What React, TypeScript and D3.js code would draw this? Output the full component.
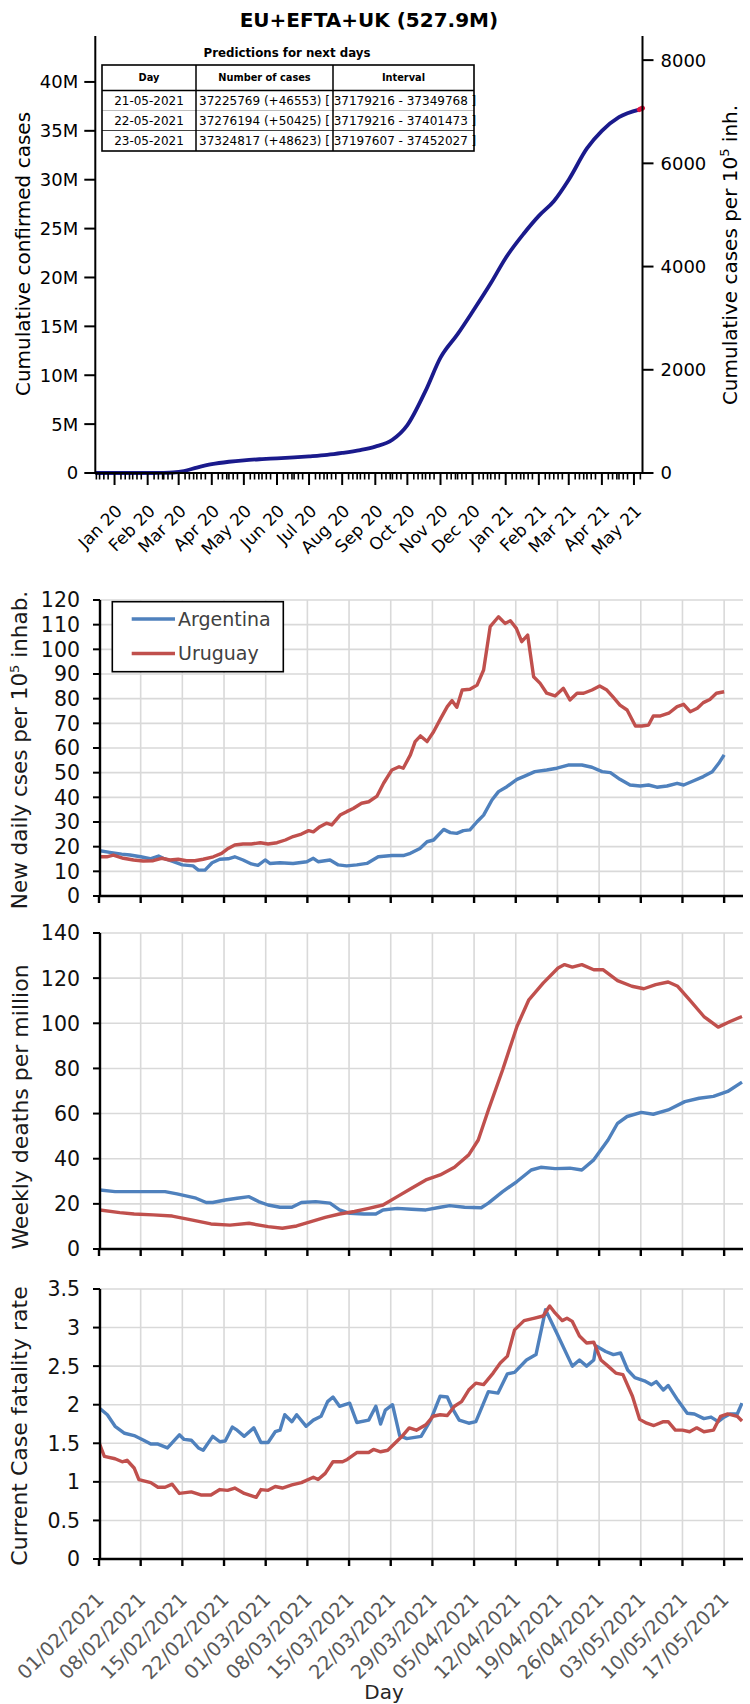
import React, { useEffect } from "react";
import * as d3 from "d3";

// ================= TOP CHART DATA =================
const TOP_TITLE = "EU+EFTA+UK (527.9M)";
const POPULATION = 527.9e6;
const cumDates = [
  "2019-12-28", "2020-02-20", "2020-03-01", "2020-03-10", "2020-03-20", "2020-04-01",
  "2020-04-15", "2020-05-01", "2020-05-15", "2020-06-01", "2020-06-15", "2020-07-01",
  "2020-07-15", "2020-08-01", "2020-08-15", "2020-09-01", "2020-09-15", "2020-10-01",
  "2020-10-15", "2020-11-01", "2020-11-15", "2020-12-01", "2020-12-15", "2021-01-01",
  "2021-01-15", "2021-02-01", "2021-02-15", "2021-03-01", "2021-03-15", "2021-04-01",
  "2021-04-15", "2021-05-01", "2021-05-20",
];
const cumMillions = [
  0, 0, 0.01, 0.05, 0.2, 0.55, 0.9, 1.15, 1.3, 1.42, 1.5, 1.6, 1.7, 1.85, 2.05, 2.35,
  2.7, 3.4, 4.9, 8.4, 11.8, 14.2, 16.5, 19.4, 22.0, 24.5, 26.3, 27.8, 30.0, 33.2, 35.0,
  36.4, 37.17,
];
const predDates = ["2021-05-20", "2021-05-21", "2021-05-22", "2021-05-23"];
const predMillions = [37.17, 37.225769, 37.276194, 37.324817];
const leftTickValues = [0, 5, 10, 15, 20, 25, 30, 35, 40];
const leftTickLabels = ["0", "5M", "10M", "15M", "20M", "25M", "30M", "35M", "40M"];
const rightTickValues = [0, 2000, 4000, 6000, 8000];
const TABLE_TITLE = "Predictions for next days";
const tableHeader = ["Day", "Number of cases", "Interval"];
const tableDays = ["21-05-2021", "22-05-2021", "23-05-2021"];
const tableCases = ["37225769 (+46553) [", "37276194 (+50425) [", "37324817 (+48623) ["];
const tableIntervals = ["37179216 - 37349768 ]", "37179216 - 37401473 ]", "37197607 - 37452027 ]"];

// ================= BOTTOM CHARTS DATA =================
const weekLabels = [
  "01/02/2021", "08/02/2021", "15/02/2021", "22/02/2021", "01/03/2021", "08/03/2021",
  "15/03/2021", "22/03/2021", "29/03/2021", "05/04/2021", "12/04/2021", "19/04/2021",
  "26/04/2021", "03/05/2021", "10/05/2021", "17/05/2021",
];
const seriesNames = ["Argentina", "Uruguay"];
const seriesColors = ["#4f81bd", "#c0504d"];

// [day offset since 01/02/2021, value]
const casesArgentina = [
  [0, 18.4], [1.8, 17.7], [3.8, 17.0], [5.2, 16.6], [7, 15.9], [8.6, 15.1], [10, 16.2], [10.8, 15.3],
  [12.5, 13.9], [14, 12.6], [15.8, 12.2], [16.7, 10.5], [17.8, 10.5], [19, 13.5], [20.3, 14.9],
  [21.7, 15.1], [22.8, 15.9], [24.2, 14.6], [25.6, 13.0], [26.7, 12.4], [27.9, 14.6], [28.7, 13.2],
  [30.4, 13.5], [32.6, 13.2], [34.9, 13.9], [36, 15.3], [36.8, 13.9], [38.8, 14.6], [40.2, 12.6],
  [41.6, 12.2], [43.3, 12.6], [45, 13.2], [46.9, 15.9], [49.2, 16.4], [51.1, 16.4], [52.3, 17.3],
  [53.9, 19.3], [55.1, 22], [56.2, 22.7], [57.9, 27], [59, 25.7], [60.1, 25.4], [61.2, 26.5],
  [62.3, 26.8], [63.5, 30.1], [64.6, 32.8], [66, 38.9], [67.1, 42.3], [68.5, 44.3], [70.2, 47.3],
  [71.5, 48.6], [73.2, 50.4], [75.2, 51.1], [76.9, 51.8], [78.8, 53.1], [81.1, 53.1], [82.8, 52.2],
  [84.5, 50.4], [85.9, 50], [87.5, 47.3], [89.2, 45], [90.9, 44.6], [92.3, 45], [93.7, 44.1],
  [95.4, 44.6], [97.1, 45.7], [98.2, 45], [99.6, 46.4], [101.5, 48.4], [103, 50.4], [104.1, 53.8],
  [105, 57.2],
];
const casesUruguay = [
  [0, 15.9], [1.3, 15.9], [2.4, 16.6], [4.1, 15.3], [5.8, 14.6], [7.4, 14.2], [9.1, 14.3],
  [10.5, 15.3], [11.9, 14.6], [13.3, 14.9], [14.7, 14.3], [16.1, 14.3], [17.5, 14.9], [19.2, 15.9],
  [20.6, 17.3], [21.7, 19.3], [22.8, 20.7], [24.2, 21.1], [25.6, 21.1], [27.1, 21.6], [28.4, 21.1],
  [29.9, 21.6], [31.3, 22.7], [32.6, 24.1], [34, 25.1], [35.2, 26.5], [36, 26], [37.1, 28.1],
  [38.2, 29.5], [39.1, 28.8], [40.5, 32.8], [41.6, 34.2], [42.7, 35.5], [44.1, 37.6], [45.3, 38.2],
  [46.7, 40.5], [47.8, 45.7], [49.2, 51.1], [50.4, 52.4], [51.1, 51.8], [52.3, 57.2], [53.1, 62.6],
  [54, 64.9], [55.1, 62.6], [56.2, 66.6], [57.4, 72], [58.5, 76.8], [59.3, 79.2], [60.1, 76.5],
  [61, 83.5], [62.3, 83.8], [63.5, 85.5], [64.6, 91.6], [65.7, 109.2], [67.1, 113.2], [68.2, 110.5],
  [69.1, 111.6], [70.1, 108.5], [71, 103.1], [72, 105.8], [73, 88.9], [74.1, 86.2], [75.2, 82.2],
  [76.6, 81.1], [78, 84.2], [79.1, 79.5], [80.3, 82.2], [81.4, 82.2], [82.8, 83.5], [84.1, 85.1],
  [85.3, 83.5], [86.4, 80.5], [87.5, 77.4], [88.7, 75.4], [90.1, 68.9], [91.2, 68.9], [92.3, 69.3],
  [93.1, 73], [94.3, 73], [95.7, 74.1], [97.1, 76.8], [98.2, 77.7], [99.3, 74.7], [100.5, 76.1],
  [101.5, 78.4], [102.6, 79.7], [103.7, 82.2], [105, 82.8],
];
const deathsArgentina = [
  [0, 26.2], [2.7, 25.4], [7.5, 25.4], [11.1, 25.4], [13.1, 24.4], [16.3, 22.5], [18, 20.6],
  [19.1, 20.6], [21.2, 21.7], [23.2, 22.5], [25.2, 23.2], [26.8, 21], [28.4, 19.5], [30.4, 18.5],
  [32.4, 18.5], [34, 20.6], [36.4, 21], [38.8, 20.3], [40.4, 17.3], [42.1, 15.8], [44.5, 15.5],
  [46.5, 15.5], [47.7, 17.3], [50.1, 18], [52.5, 17.6], [54.9, 17.3], [57.3, 18.5], [58.9, 19.2],
  [61.4, 18.5], [64.2, 18.3], [65.4, 20.3], [67.8, 25.4], [70.2, 29.9], [72.6, 35], [74.2, 36.2],
  [76.6, 35.6], [79.1, 35.8], [81.1, 35], [83.1, 39.5], [85.5, 48.3], [87.1, 55.7], [88.7, 58.7],
  [91.1, 60.5], [93.1, 59.7], [95.6, 61.6], [98.4, 65.3], [100.8, 66.8], [103.2, 67.6],
  [105.6, 69.8], [108, 73.9],
];
const deathsUruguay = [
  [0, 17.3], [3.5, 16.1], [5.9, 15.5], [9.1, 15.1], [12.3, 14.6], [15.5, 12.9], [18.8, 11.1],
  [22, 10.6], [25.2, 11.4], [28.4, 9.9], [30.8, 9.2], [33.2, 10.2], [35.6, 12.1], [38, 14],
  [40.4, 15.5], [42.9, 16.6], [45.3, 18], [47.7, 19.5], [50.1, 23.2], [52.5, 26.9], [54.9, 30.6],
  [57.3, 32.8], [59.7, 36.2], [62.1, 41.7], [63.7, 48.3], [65.4, 61.6], [67.8, 79.4], [70.2, 98.6],
  [72.2, 110.4], [74.6, 117.8], [77.1, 124.5], [78.2, 126], [79.5, 124.9], [81.1, 126],
  [83.1, 123.7], [84.7, 123.7], [87.1, 118.9], [89.5, 116.4], [91.5, 115.3], [93.5, 117.1],
  [95.6, 118.3], [97.2, 116.4], [99.2, 110.4], [101.6, 103], [104, 98.3], [106, 100.8], [108, 103],
];
const cfrArgentina = [
  [0, 1.96], [1.4, 1.87], [2.7, 1.72], [4.3, 1.63], [5.9, 1.6], [7.5, 1.54], [8.7, 1.49], [9.9, 1.49],
  [11.5, 1.44], [13.5, 1.61], [14.3, 1.55], [15.5, 1.54], [16.7, 1.44], [17.5, 1.41], [19.1, 1.59],
  [20.3, 1.52], [21.2, 1.53], [22.4, 1.71], [23.2, 1.67], [24.4, 1.59], [26, 1.70], [27.2, 1.51],
  [28.4, 1.51], [29.6, 1.65], [30.4, 1.67], [31.2, 1.87], [32.4, 1.78], [33.2, 1.87], [34.8, 1.72],
  [36, 1.80], [37.3, 1.85], [38.4, 2.04], [39.3, 2.10], [40.4, 1.98], [42.1, 2.02], [43.3, 1.77],
  [45.3, 1.80], [46.5, 1.98], [47.3, 1.75], [48.1, 1.93], [49.3, 2.00], [50.5, 1.60], [51.7, 1.56],
  [54.1, 1.59], [55.7, 1.80], [57.3, 2.11], [58.5, 2.10], [59.3, 1.96], [60.5, 1.80], [62.1, 1.76],
  [63.3, 1.78], [65.4, 2.17], [67, 2.15], [68.6, 2.40], [69.8, 2.42], [71.8, 2.58], [73.4, 2.65],
  [75, 3.23], [77, 2.91], [79.5, 2.50], [80.7, 2.58], [81.9, 2.50], [83.1, 2.58], [83.5, 2.76],
  [85.1, 2.69], [86.4, 2.65], [87.6, 2.67], [88.8, 2.45], [90, 2.35], [91.6, 2.31], [92.8, 2.26],
  [93.6, 2.30], [94.8, 2.19], [95.6, 2.25], [97.2, 2.06], [98.8, 1.89], [100, 1.88], [101.6, 1.82],
  [102.8, 1.84], [104, 1.78], [104.8, 1.83], [106, 1.88], [107.2, 1.88], [108, 2.02],
];
const cfrUruguay = [
  [0, 1.51], [0.9, 1.33], [2.7, 1.30], [3.9, 1.26], [4.7, 1.28], [5.9, 1.18], [6.7, 1.03], [8.7, 0.99],
  [9.9, 0.93], [11.1, 0.93], [12.3, 0.97], [13.5, 0.85], [15.5, 0.87], [17.1, 0.83], [18.8, 0.83],
  [20.3, 0.90], [21.6, 0.89], [22.8, 0.92], [24.4, 0.85], [26.4, 0.80], [27.2, 0.90], [28.4, 0.89],
  [29.6, 0.94], [30.8, 0.92], [32.4, 0.96], [34, 0.99], [36, 1.06], [36.8, 1.03], [38, 1.11],
  [39.3, 1.26], [40.9, 1.26], [41.7, 1.29], [43.3, 1.38], [45.3, 1.38], [46.1, 1.42], [47.3, 1.39],
  [48.5, 1.41], [49.7, 1.50], [50.9, 1.59], [52.1, 1.70], [53.3, 1.67], [54.9, 1.74], [56.1, 1.85],
  [57.3, 1.87], [58.5, 1.86], [59.7, 1.98], [60.9, 2.04], [62.1, 2.19], [63.3, 2.28], [64.6, 2.26],
  [66.2, 2.41], [67.4, 2.54], [68.6, 2.63], [69.8, 2.97], [71.4, 3.09], [73, 3.12], [74.6, 3.15],
  [75.7, 3.28], [76.6, 3.19], [77.8, 3.09], [78.6, 3.12], [79.5, 3.08], [80.7, 2.89], [81.9, 2.80],
  [83.1, 2.81], [84.3, 2.58], [85.5, 2.50], [86.8, 2.41], [88, 2.39], [89.6, 2.11], [90.8, 1.81],
  [92, 1.76], [93.2, 1.73], [94.8, 1.78], [95.6, 1.78], [96.8, 1.67], [98, 1.67], [99.2, 1.65],
  [100.4, 1.70], [101.6, 1.65], [103.2, 1.67], [104.4, 1.85], [105.6, 1.88], [107.2, 1.85], [108, 1.79],
];

const panel1Ticks = [0, 10, 20, 30, 40, 50, 60, 70, 80, 90, 100, 110, 120];
const panel2Ticks = [0, 20, 40, 60, 80, 100, 120, 140];
const panel3Ticks = [0, 0.5, 1, 1.5, 2, 2.5, 3, 3.5];

// ================= HELPERS =================
const parse = (s: string) => new Date(s + "T00:00:00Z");
const DJ = "'DejaVu Sans', Verdana, sans-serif";

function TopChart() {
  const x = d3.scaleUtc().domain([parse("2019-12-28"), parse("2021-05-23")]).range([95.3, 642.5]);
  const y = d3.scaleLinear().domain([0, 44.7]).range([473, 36]);
  const yR = d3.scaleLinear().domain([0, (44.7e6 / POPULATION) * 1e5]).range([473, 36]);
  const majors = d3.utcMonth
    .range(parse("2020-01-01"), parse("2021-06-01"))
    .map((d) => d3.utcDay.offset(d, 14))
    .filter((d) => d <= x.domain()[1]);
  const minors = d3.utcDay
    .every(4)!
    .range(x.domain()[0], x.domain()[1])
    .filter((d) => Math.abs(d.getUTCDate() - 15) > 2);
  const fmt = d3.utcFormat("%b %y");
  const line = d3
    .line<[Date, number]>()
    .x((d) => x(d[0]))
    .y((d) => y(d[1]))
    .curve(d3.curveMonotoneX);
  const obs: [Date, number][] = cumDates.map((d, i) => [parse(d), cumMillions[i]]);
  const pred: [Date, number][] = predDates.map((d, i) => [parse(d), predMillions[i]]);
  const axisY = 473;

  const colX = [102, 196, 333, 474];
  const rowY = [65, 90.5, 110.5, 130.5, 151];
  const cols = [tableDays, tableCases, tableIntervals];

  return (
    <g fontFamily={DJ}>
      <text x={368.9} y={27} textAnchor="middle" fontSize={20} fontWeight="bold" fill="#000">
        {TOP_TITLE}
      </text>
      <path d={line(obs)!} fill="none" stroke="#1a1a8c" strokeWidth={3.8} strokeLinejoin="round" />
      <path d={line(pred)!} fill="none" stroke="#e0163f" strokeWidth={5} strokeLinecap="round" />
      <line x1={x.range()[0]} x2={x.range()[0]} y1={36} y2={axisY} stroke="#000" strokeWidth={2} />
      <line x1={x.range()[1]} x2={x.range()[1]} y1={36} y2={axisY} stroke="#000" strokeWidth={2} />
      <line x1={x.range()[0] - 1} x2={x.range()[1] + 1} y1={axisY} y2={axisY} stroke="#000" strokeWidth={2} />
      {leftTickValues.map((v, i) => (
        <g key={"l" + v}>
          <line x1={x.range()[0] - 11} x2={x.range()[0]} y1={y(v)} y2={y(v)} stroke="#000" strokeWidth={2} />
          <text x={x.range()[0] - 17} y={y(v)} dy="0.36em" textAnchor="end" fontSize={18}>
            {leftTickLabels[i]}
          </text>
        </g>
      ))}
      {rightTickValues.map((v) => (
        <g key={"r" + v}>
          <line x1={x.range()[1]} x2={x.range()[1] + 11} y1={yR(v)} y2={yR(v)} stroke="#000" strokeWidth={2} />
          <text x={x.range()[1] + 18} y={yR(v)} dy="0.36em" textAnchor="start" fontSize={18}>
            {v}
          </text>
        </g>
      ))}
      {minors.map((d) => (
        <line key={"m" + d.getTime()} x1={x(d)} x2={x(d)} y1={axisY} y2={axisY + 6.5} stroke="#000" strokeWidth={1.6} />
      ))}
      {majors.map((d) => (
        <g key={"M" + d.getTime()}>
          <line x1={x(d)} x2={x(d)} y1={axisY} y2={axisY + 12} stroke="#000" strokeWidth={2} />
          <text transform={`translate(${x(d) + 8.5},${512}) rotate(-45)`} textAnchor="end" fontSize={17}>
            {fmt(d)}
          </text>
        </g>
      ))}
      <text transform="translate(30,254) rotate(-90)" textAnchor="middle" fontSize={20}>
        Cumulative confirmed cases
      </text>
      <text transform="translate(737,255) rotate(-90)" textAnchor="middle" fontSize={20}>
        Cumulative cases per 10
        <tspan fontSize={13} dy={-8}>5</tspan>
        <tspan dy={8}> inh.</tspan>
      </text>
      <text x={287} y={57} textAnchor="middle" fontSize={11.8} fontWeight="bold">
        {TABLE_TITLE}
      </text>
      <rect x={colX[0]} y={rowY[0]} width={colX[3] - colX[0]} height={rowY[4] - rowY[0]} fill="#fff" />
      <line x1={colX[0]} x2={colX[3]} y1={rowY[2]} y2={rowY[2]} stroke="#bdbdbd" strokeWidth={1} />
      <line x1={colX[0]} x2={colX[3]} y1={rowY[3]} y2={rowY[3]} stroke="#444" strokeWidth={1.2} />
      <line x1={colX[0]} x2={colX[3]} y1={rowY[1]} y2={rowY[1]} stroke="#000" strokeWidth={1.5} />
      {[1, 2].map((c) => (
        <line key={"c" + c} x1={colX[c]} x2={colX[c]} y1={rowY[0]} y2={rowY[4]} stroke="#000" strokeWidth={1.5} />
      ))}
      <rect x={colX[0]} y={rowY[0]} width={colX[3] - colX[0]} height={rowY[4] - rowY[0]} fill="none" stroke="#000" strokeWidth={1.6} />
      {tableHeader.map((h, c) => (
        <text key={h} x={(colX[c] + colX[c + 1]) / 2} y={(rowY[0] + rowY[1]) / 2} dy="0.36em" textAnchor="middle" fontSize={9.8} fontWeight="bold">
          {h}
        </text>
      ))}
      {cols.map((col, c) =>
        col.map((t, r) => (
          <text key={c + "-" + r} x={(colX[c] + colX[c + 1]) / 2 + (c === 2 ? 1.5 : 0)} y={(rowY[r + 1] + rowY[r + 2]) / 2} dy="0.36em" textAnchor="middle" fontSize={12}>
            {t}
          </text>
        ))
      )}
    </g>
  );
}

type Pt = number[];

function Panel(props: {
  top: number;
  bottom: number;
  ticks: number[];
  series: Pt[][];
  showLegend?: boolean;
  showDates?: boolean;
  label: React.ReactNode;
}) {
  const { top, bottom, ticks, series, showLegend, showDates, label } = props;
  const x = d3.scaleLinear().domain([0, 108]).range([99, 742]);
  const y = d3.scaleLinear().domain([0, d3.max(ticks)!]).range([bottom, top]);
  const axisX = 100;
  const right = 743;
  const weekDays = weekLabels.map((_, i) => i * 7);
  const line = d3
    .line<Pt>()
    .x((d) => x(d[0]))
    .y((d) => y(d[1]));
  const clipId = "clip" + top;
  return (
    <g fontFamily={DJ}>
      <defs>
        <clipPath id={clipId}>
          <rect x={axisX} y={top - 10} width={right - axisX} height={bottom - top + 10} />
        </clipPath>
      </defs>
      {ticks.filter((t) => t > 0).map((t) => (
        <line key={"h" + t} x1={axisX} x2={right} y1={y(t)} y2={y(t)} stroke="#d9d9d9" strokeWidth={1.6} />
      ))}
      {weekDays.filter((d) => d > 0).map((d) => (
        <line key={"v" + d} x1={x(d)} x2={x(d)} y1={top} y2={bottom} stroke="#d9d9d9" strokeWidth={1.6} />
      ))}
      <g clipPath={`url(#${clipId})`}>
        {series.map((s, i) => (
          <path key={i} d={line(s)!} fill="none" stroke={seriesColors[i]} strokeWidth={3.4} strokeLinejoin="round" />
        ))}
      </g>
      <line x1={axisX} x2={axisX} y1={top} y2={bottom + 1} stroke="#000" strokeWidth={2.4} />
      <line x1={axisX - 1} x2={right} y1={bottom} y2={bottom} stroke="#000" strokeWidth={2.6} />
      {ticks.map((t) => (
        <g key={"t" + t}>
          <line x1={axisX - 7} x2={axisX} y1={y(t)} y2={y(t)} stroke="#000" strokeWidth={2} />
          <text x={80} y={y(t)} dy="0.36em" textAnchor="end" fontSize={20.5} fill="#111">
            {String(t)}
          </text>
        </g>
      ))}
      {weekDays.map((d, i) => (
        <g key={"w" + d}>
          <line x1={x(d)} x2={x(d)} y1={bottom} y2={bottom + 7} stroke="#000" strokeWidth={2.4} />
          {showDates && (
            <text
              transform={`translate(${x(d) + 6},${bottom + 42}) rotate(-45)`}
              textAnchor="end"
              fontSize={19.5}
              fill="#595959"
            >
              {weekLabels[i]}
            </text>
          )}
        </g>
      ))}
      {label}
      {showLegend && (
        <g>
          <rect x={112.3} y={601.7} width={171} height={70} fill="#fff" stroke="#000" strokeWidth={1.6} />
          {seriesNames.map((n, i) => (
            <g key={n}>
              <line x1={131.7} x2={175} y1={619 + i * 34.5} y2={619 + i * 34.5} stroke={seriesColors[i]} strokeWidth={3.4} />
              <text x={178} y={619 + i * 34.5} dy="0.36em" fontSize={19} fill="#404040">
                {n}
              </text>
            </g>
          ))}
        </g>
      )}
    </g>
  );
}

export default function App() {
  useEffect(() => {
    document.body.style.margin = "0";
  }, []);
  return (
    <svg
      width={750}
      height={1704}
      viewBox="0 0 750 1704"
      style={{ position: "absolute", left: 0, top: 0, background: "#fff" }}
    >
      <rect x={0} y={0} width={750} height={1704} fill="#fff" />
      <TopChart />
      <Panel
        top={600}
        bottom={896}
        ticks={panel1Ticks}
        series={[casesArgentina, casesUruguay]}
        showLegend
        label={
          <text transform="translate(27,750) rotate(-90)" textAnchor="middle" fontSize={21.5} fill="#1a1a1a">
            New daily cses per 10
            <tspan fontSize={13} dy={-8}>5</tspan>
            <tspan dy={8}> inhab.</tspan>
          </text>
        }
      />
      <Panel
        top={933}
        bottom={1249}
        ticks={panel2Ticks}
        series={[deathsArgentina, deathsUruguay]}
        label={
          <text transform="translate(28,1107) rotate(-90)" textAnchor="middle" fontSize={22} fill="#1a1a1a">
            Weekly deaths per million
          </text>
        }
      />
      <Panel
        top={1289}
        bottom={1559}
        ticks={panel3Ticks}
        series={[cfrArgentina, cfrUruguay]}
        showDates
        label={
          <text transform="translate(27,1426) rotate(-90)" textAnchor="middle" fontSize={22} fill="#1a1a1a">
            Current Case fatality rate
          </text>
        }
      />
      <text x={384} y={1699} textAnchor="middle" fontSize={20} fontFamily={DJ} fill="#262626">
        Day
      </text>
    </svg>
  );
}
